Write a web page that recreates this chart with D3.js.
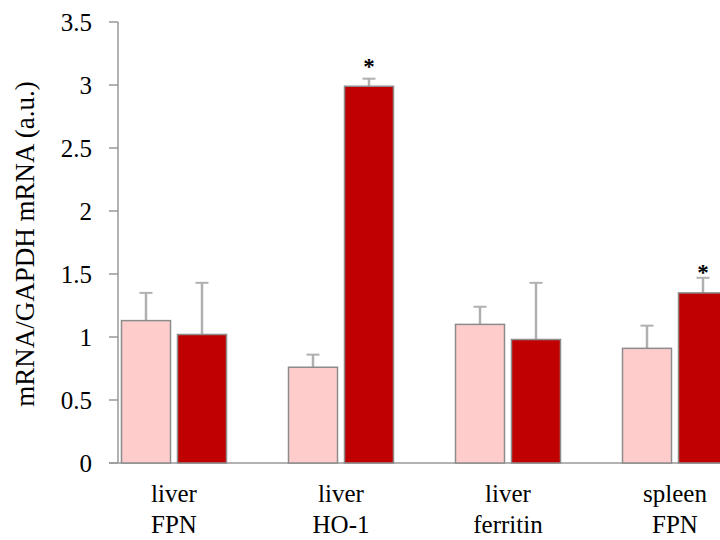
<!DOCTYPE html>
<html><head><meta charset="utf-8">
<script src="https://cdn.jsdelivr.net/npm/d3@7"></script>
<style>body{margin:0;background:#fff} text{font-family:"Liberation Serif","DejaVu Serif","Tinos","Noto Serif","FreeSerif","Times New Roman",Times,serif;}</style>
</head><body>
<svg id="c" width="720" height="540"></svg>
<script>
const categories = [["liver","FPN"],["liver","HO-1"],["liver","ferritin"],["spleen","FPN"]];
const controlValues = [1.13, 0.76, 1.10, 0.91];
const controlErrors = [0.22, 0.10, 0.14, 0.18];
const treatedValues = [1.02, 2.99, 0.98, 1.35];
const treatedErrors = [0.41, 0.06, 0.45, 0.12];
const significant = [false, true, false, true];
const starLevel = [null, 3.18, null, 1.54];
const yTicks = [0, 0.5, 1, 1.5, 2, 2.5, 3, 3.5];
const yTitle = "mRNA/GAPDH mRNA (a.u.)";

const svg = d3.select("#c");
const axisX = 118, y0 = 463, yTop = 22;
const y = d3.scaleLinear().domain([0, 3.5]).range([y0, yTop]);
const x = d3.scaleBand().domain(d3.range(categories.length)).range([90.5, 758.5]);
const barW = 49, gap = 7;
const fs = 25;
const axisColor = "#999";

// axes
svg.append("line").attr("x1", axisX).attr("x2", axisX).attr("y1", y(3.5)).attr("y2", y0)
  .attr("stroke", axisColor).attr("stroke-width", 1.5);
svg.append("line").attr("x1", 109).attr("x2", 720).attr("y1", y0).attr("y2", y0)
  .attr("stroke", axisColor).attr("stroke-width", 1.5);
yTicks.forEach(t => {
  svg.append("line").attr("x1", 109).attr("x2", axisX).attr("y1", y(t)).attr("y2", y(t))
    .attr("stroke", axisColor).attr("stroke-width", 1.5);
  svg.append("text").attr("x", 92).attr("y", y(t)).attr("dy", "0.35em")
    .attr("text-anchor", "end").attr("font-size", fs)
    .attr("fill", "#000").text(t);
});
svg.append("text").attr("transform", "translate(34,244) rotate(-90)")
  .attr("text-anchor", "middle").attr("font-size", 27).text(yTitle);

// bars
function drawBar(cx, v, e, fill, errColor) {
  const top = y(v);
  svg.append("line").attr("x1", cx).attr("x2", cx).attr("y1", top).attr("y2", y(v + e))
    .attr("stroke", errColor).attr("stroke-width", 2.5);
  svg.append("line").attr("x1", cx - 6.5).attr("x2", cx + 6.5).attr("y1", y(v + e)).attr("y2", y(v + e))
    .attr("stroke", errColor).attr("stroke-width", 2);
  svg.append("rect").attr("x", cx - barW / 2).attr("y", top).attr("width", barW).attr("height", y0 - top)
    .attr("fill", fill).attr("stroke", "#8c8c8c").attr("stroke-width", 1.5);
}
categories.forEach((c, i) => {
  const center = x(i) + x.bandwidth() / 2;
  const c1 = center - gap / 2 - barW / 2, c2 = center + gap / 2 + barW / 2;
  drawBar(c1, controlValues[i], controlErrors[i], "#ffcccc", "#b0b0b0");
  drawBar(c2, treatedValues[i], treatedErrors[i], "#c00000", "#b0b0b0");
  if (significant[i]) {
    svg.append("text").attr("x", c2).attr("y", y(starLevel[i])).attr("dy", "0.5em")
      .attr("text-anchor", "middle").attr("font-size", 23)
      .attr("font-weight", "bold").text("*");
  }
  svg.append("text").attr("x", center).attr("y", 502).attr("text-anchor", "middle")
    .attr("font-size", fs).text(c[0]);
  svg.append("text").attr("x", center).attr("y", 533).attr("text-anchor", "middle")
    .attr("font-size", fs).text(c[1]);
});
</script>
</body></html>
